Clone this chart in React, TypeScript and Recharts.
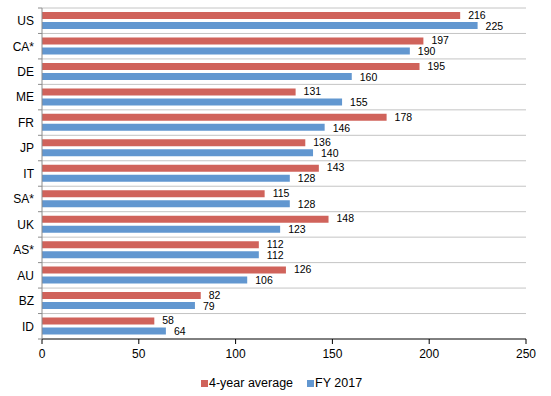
import React from "react";
import {
  BarChart,
  Bar,
  XAxis,
  YAxis,
  CartesianGrid,
  LabelList,
} from "recharts";

// country codes, top to bottom
const countries = ["US", "CA*", "DE", "ME", "FR", "JP", "IT", "SA*", "UK", "AS*", "AU", "BZ", "ID"];
const fourYearAvg = [216, 197, 195, 131, 178, 136, 143, 115, 148, 112, 126, 82, 58];
const fy2017 = [225, 190, 160, 155, 146, 140, 128, 128, 123, 112, 106, 79, 64];
const xTicks = [0, 50, 100, 150, 200, 250];

const RED = "#d0635b";
const BLUE = "#6297d0";
const FONT = "'Liberation Sans', Arial, sans-serif";

const data = countries.map((c, i) => ({
  country: c,
  avg: fourYearAvg[i],
  fy: fy2017[i],
}));

// category label plus the small tick marks sitting on band boundaries
const CountryTick = (props: any) => {
  const { x, y, payload, index } = props;
  const band = props.height / countries.length;
  const axisX = x + 8;
  return (
    <g>
      {index === 0 && (
        <line x1={axisX - 4} x2={axisX} y1={y - band / 2} y2={y - band / 2} stroke="#8c8c8c" />
      )}
      <line x1={axisX - 4} x2={axisX} y1={y + band / 2} y2={y + band / 2} stroke="#8c8c8c" />
      <text x={x} y={y} dy="0.36em" textAnchor="end" fontSize={12} fill="#000" fontFamily={FONT}>
        {payload.value}
      </text>
    </g>
  );
};

const legendItems = [
  { label: "4-year average", color: RED },
  { label: "FY 2017", color: BLUE },
];

// legend drawn as plain html under the chart so its spot is fixed
const ChartLegend = () => (
  <div
    style={{
      position: "absolute",
      left: 201,
      top: 374,
      height: 18,
      display: "flex",
      alignItems: "center",
      fontFamily: FONT,
      fontSize: 12.5,
      color: "#000",
    }}
  >
    {legendItems.map((it, i) => (
      <div key={it.label} style={{ display: "flex", alignItems: "center", marginRight: i === 0 ? 14 : 0 }}>
        <span style={{ display: "inline-block", width: 7, height: 7, background: it.color, marginRight: 1 }} />
        <span>{it.label}</span>
      </div>
    ))}
  </div>
);

export default function App() {
  return (
    <div style={{ position: "absolute", left: 0, top: 0, width: 551, height: 396, background: "#fff" }}>
      <BarChart
        width={551}
        height={396}
        data={data}
        layout="vertical"
        margin={{ top: 8, right: 25, left: 0, bottom: 27 }}
        barSize={7}
        barGap={3}
        style={{ fontFamily: FONT }}
      >
        <CartesianGrid
          vertical={false}
          stroke="#c4c4c4"
          horizontalCoordinatesGenerator={({ offset }: any) =>
            countries.map((_, i) => offset.top + (i * offset.height) / countries.length)
          }
        />
        <XAxis
          type="number"
          domain={[0, 250]}
          ticks={xTicks}
          height={30}
          tickSize={5}
          tickMargin={5}
          stroke="#000"
          tick={{ fontSize: 12, fill: "#000" }}
        />
        <YAxis
          type="category"
          dataKey="country"
          width={42}
          tickLine={false}
          stroke="#8c8c8c"
          tick={<CountryTick />}
          interval={0}
        />
        <Bar dataKey="avg" name="4-year average" fill={RED} isAnimationActive={false}>
          <LabelList dataKey="avg" position="right" offset={8} fontSize={10.5} fill="#000" dy={-0.5} />
        </Bar>
        <Bar dataKey="fy" name="FY 2017" fill={BLUE} isAnimationActive={false}>
          <LabelList dataKey="fy" position="right" offset={8} fontSize={10.5} fill="#000" dy={0.5} />
        </Bar>
      </BarChart>
      <ChartLegend />
    </div>
  );
}
